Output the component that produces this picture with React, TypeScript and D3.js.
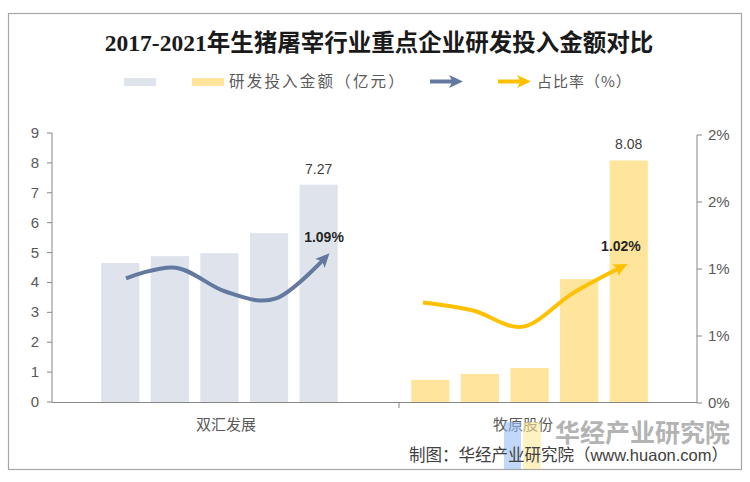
import * as d3 from 'd3'

const groups = ['双汇发展', '牧原股份']
const years = ['2017', '2018', '2019', '2020', '2021']
const shuanghuiAmount = [4.65, 4.88, 4.98, 5.65, 7.27]
const muyuanAmount = [0.74, 0.94, 1.14, 4.11, 8.08]
const shuanghuiRatio = [0.93, 1.01, 0.83, 0.78, 1.09]
const muyuanRatio = [0.75, 0.69, 0.57, 0.82, 1.02]
const leftTicks = [0, 1, 2, 3, 4, 5, 6, 7, 8, 9]
const rightTicks = [0, 0.5, 1, 1.5, 2]
const rightTickLabels = ['0%', '1%', '1%', '2%', '2%']

const series = [
  { name: groups[0], amount: shuanghuiAmount, ratio: shuanghuiRatio, bar: '#dfe3ec', line: '#6479a0', ratioLabel: '1.09%' },
  { name: groups[1], amount: muyuanAmount, ratio: muyuanRatio, bar: '#fee59b', line: '#ffc000', ratioLabel: '1.02%' },
]

const W = 750
const H = 482
const plot = { left: 52, right: 697, top: 133, bottom: 402 }
const sans = '"Liberation Sans", Arial, "Noto Sans CJK SC", sans-serif'
const cjk = '"Noto Sans CJK SC", "Liberation Sans", sans-serif'

export default function App() {
  const yL = d3.scaleLinear().domain([0, 9]).range([plot.bottom, plot.top])
  const yR = d3.scaleLinear().domain([0, 2]).range([plot.bottom + 1, plot.top + 2])

  // bars and lines sit on slightly different category positions (as in the original)
  const xBarGroup = d3.scalePoint<string>().domain(groups).range([plot.left, plot.right]).padding(0.54)
  const xBarYear = d3.scaleBand<string>().domain(years).range([-124, 124]).paddingInner(0.23).paddingOuter(0.115)
  const xLineGroup = d3.scalePoint<string>().domain(groups).range([plot.left, plot.right]).padding(0.586)
  const xLineYear = d3.scalePoint<string>().domain(years).range([-100, 100])

  const line = d3.line<number>()
    .x((_, i) => xLineYear(years[i])!)
    .y(d => yR(d))
    .curve(d3.curveCatmullRom.alpha(0))

  const divider = 399

  return (
    <svg width={W} height={H} style={{ position: 'absolute', left: 0, top: 0, background: '#fff' }}>
      <defs>
        {series.map((s, i) => (
          <marker key={i} id={`arrow${i}`} viewBox="0 0 14 14" refX={9} refY={7} markerWidth={14} markerHeight={14}
            markerUnits="userSpaceOnUse" orient="auto">
            <path d="M0,0.5 L14,7 L0,13.5 L3.5,7 Z" fill={s.line} />
          </marker>
        ))}
      </defs>

      <rect x={8.5} y={13.5} width={733} height={456} fill="#fff" stroke="#a6a6a6" strokeWidth={1.2} />

      {/* Title */}
      <text x={379} y={51} textAnchor="middle" fontSize={23.5} fontWeight="bold"
        fontFamily='"Liberation Serif", "Noto Sans CJK SC", serif' fill="#1a1a1a">
        2017-2021年生猪屠宰行业重点企业研发投入金额对比
      </text>

      {/* Legend */}
      <g fontFamily={cjk} fill="#595959">
        <rect x={124} y={78} width={32} height={8} fill={series[0].bar} />
        <rect x={192} y={78} width={32} height={8} fill={series[1].bar} />
        <text x={229} y={87} fontSize={15.5} letterSpacing={2.2}>研发投入金额（亿元）</text>
        <line x1={430} x2={458} y1={81.5} y2={81.5} stroke={series[0].line} strokeWidth={4} markerEnd="url(#arrow0)" />
        <line x1={498} x2={526} y1={81.5} y2={81.5} stroke={series[1].line} strokeWidth={4} markerEnd="url(#arrow1)" />
        <text x={537} y={87} fontSize={15} letterSpacing={1}>占比率（%）</text>
      </g>

      {/* Bars */}
      {series.map((s, gi) => (
        <g key={gi}>
          {s.amount.map((v, i) => (
            <rect key={i}
              x={xBarGroup(s.name)! + xBarYear(years[i])!}
              y={yL(v)}
              width={xBarYear.bandwidth()}
              height={yL(0) - yL(v)}
              fill={s.bar} />
          ))}
          <text x={xBarGroup(s.name)! + xBarYear(years[4])! + xBarYear.bandwidth() / 2}
            y={yL(s.amount[4]) - 11} textAnchor="middle" fontFamily={sans} fontSize={14} fill="#404040">
            {s.amount[4].toFixed(2)}
          </text>
        </g>
      ))}

      {/* Left axis */}
      <g fontFamily={sans} fontSize={15} fill="#595959">
        <line x1={plot.left} x2={plot.left} y1={plot.top} y2={plot.bottom} stroke="#868686" />
        {leftTicks.map(t => (
          <g key={t}>
            <line x1={plot.left - 5} x2={plot.left} y1={yL(t)} y2={yL(t)} stroke="#868686" />
            <text x={39} y={yL(t) + 5} textAnchor="end">{t}</text>
          </g>
        ))}
      </g>

      {/* Right axis */}
      <g fontFamily={sans} fontSize={15} fill="#595959">
        <line x1={plot.right} x2={plot.right} y1={yR(2)} y2={yR(0)} stroke="#868686" />
        {rightTicks.map((t, i) => (
          <g key={t}>
            <line x1={plot.right} x2={plot.right + 5} y1={yR(t)} y2={yR(t)} stroke="#868686" />
            <text x={708} y={yR(t) + 5}>{rightTickLabels[i]}</text>
          </g>
        ))}
      </g>

      {/* Category axis */}
      <line x1={plot.left} x2={plot.right} y1={plot.bottom + 0.5} y2={plot.bottom + 0.5} stroke="#868686" />
      <line x1={divider} x2={divider} y1={plot.bottom} y2={plot.bottom + 6} stroke="#868686" />
      {groups.map(g => (
        <text key={g} x={xLineGroup(g)!} y={430} textAnchor="middle" fontFamily={cjk} fontSize={15} fill="#595959">{g}</text>
      ))}

      {/* Ratio lines */}
      {series.map((s, gi) => (
        <g key={gi} transform={`translate(${xLineGroup(s.name)},0)`}>
          <path d={line(s.ratio)!} fill="none" stroke={s.line} strokeWidth={4} markerEnd={`url(#arrow${gi})`} />
          <text x={xLineYear(years[4])! - 2} y={yR(s.ratio[4]) - 15} textAnchor="middle" fontFamily={sans}
            fontSize={14} fontWeight="bold" fill="#262626">{s.ratioLabel}</text>
        </g>
      ))}

      {/* Watermark */}
      <rect x={504} y={422} width={17} height={47} fill="#8fb8f5" opacity={0.55} />
      <rect x={523} y={422} width={18} height={47} fill="#fde79a" opacity={0.6} />
      <text x={730} y={442} textAnchor="end" fontFamily={cjk} fontSize={25} fontWeight="bold" fill="#a6a6a6" opacity={0.85}>华经产业研究院</text>
      <text x={728} y={461} textAnchor="end" fontFamily={sans} fontSize={16.5} fill="#404040">制图：华经产业研究院（www.huaon.com）</text>
    </svg>
  )
}
